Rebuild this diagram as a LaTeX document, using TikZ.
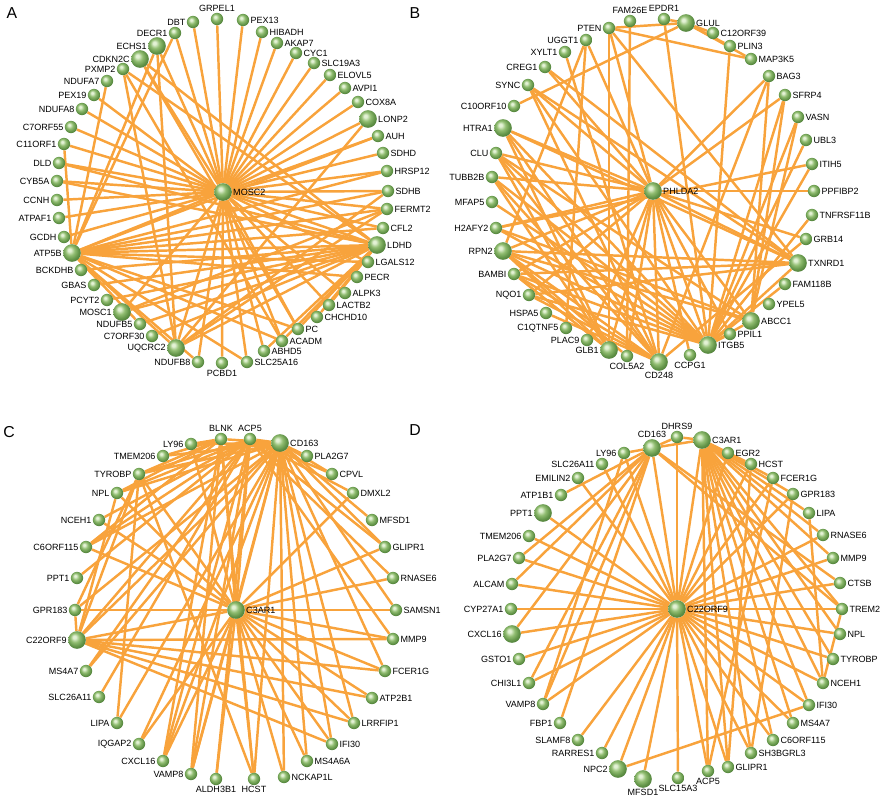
\documentclass[tikz,border=0pt]{standalone}
\usepackage{fontspec}
\setmainfont{Liberation Sans}
\usetikzlibrary{backgrounds}
\definecolor{edgeor}{RGB}{248,163,60}
\definecolor{gA}{RGB}{228,242,214}
\definecolor{gB}{RGB}{146,190,114}
\definecolor{gC}{RGB}{98,148,72}
\definecolor{gD}{RGB}{72,118,52}
\pgfdeclareradialshading{gball}{\pgfpoint{-8bp}{9bp}}{color(0bp)=(gA); color(4bp)=(gA); color(13bp)=(gB); color(23bp)=(gC); color(32bp)=(gD); color(50bp)=(gD)}
\tikzset{
 sm/.style={circle,inner sep=0pt,minimum size=0.37cm,shading=gball},
 lg/.style={circle,inner sep=0pt,minimum size=0.53cm,shading=gball},
 lbl/.style={font=\fontsize{7.7}{8}\selectfont,inner sep=0.8pt,text=black},
 lL/.style={label={[lbl]left:#1}},
 lR/.style={label={[lbl]right:#1}},
 lA/.style={label={[lbl]above:#1}},
 lB/.style={label={[lbl]below:#1}},
 lnk/.style={draw=edgeor,line width=2.1pt},
 pletter/.style={font=\fontsize{13.5}{14}\selectfont,inner sep=0pt}
}
\begin{document}
\begin{tikzpicture}[x=0.03cm,y=-0.03cm]
\useasboundingbox (0,0) rectangle (883,800);
\node[pletter] (pA) at (12,13) {A};
\node[pletter] (pB) at (415,13) {B};
\node[pletter] (pC) at (9,432) {C};
\node[pletter] (pD) at (415,430) {D};
% ---------------- Panel A
\foreach \n/\x/\y in {ECHS1/157/46,CDKN2C/140/59,ATP5B/72/253,MOSC1/122/312,UQCRC2/176/348}
  \node[lg,lL=\n] (a\n) at (\x,\y) {};
\foreach \n/\x/\y in {DBT/193/22,DECR1/175/33,PXMP2/123/69,NDUFA7/107/81,PEX19/94/95,NDUFA8/82/109,C7ORF55/71/127,C11ORF1/64/144,DLD/59/163,CYB5A/57/181,CCNH/57/200,ATPAF1/59/218,GCDH/64/237,BCKDHB/81/270,GBAS/94/285,PCYT2/107/300,NDUFB5/140/324,C7ORF30/152/336,NDUFB8/198/362}
  \node[sm,lL=\n] (a\n) at (\x,\y) {};
\node[sm,lA=GRPEL1] (aGRPEL1) at (217,19) {};
\node[sm,lB=PCBD1] (aPCBD1) at (222,363) {};
\foreach \n/\x/\y in {SLC25A16/247/362,ABHD5/264/351,ACADM/282/341,PC/298/329,CHCHD10/317/317,LACTB2/329/305,ALPK3/345/293,PECR/357/277,LGALS12/368/262,CFL2/383/228,FERMT2/387/209,SDHB/388/191,HRSP12/387/171,SDHD/383/153,AUH/378/136,COX8A/358/102,AVPI1/345/88,ELOVL5/330/75,SLC19A3/314/63,CYC1/296/53,AKAP7/277/43,HIBADH/262/32,PEX13/243/20}
  \node[sm,lR=\n] (a\n) at (\x,\y) {};
\foreach \n/\x/\y in {MOSC2/223/192,LDHD/377/245,LONP2/368/119}
  \node[lg,lR=\n] (a\n) at (\x,\y) {};
% ---------------- Panel B
\foreach \n/\x/\y in {HTRA1/503/128,RPN2/503/251,GLB1/609/350}
  \node[lg,lL=\n] (b\n) at (\x,\y) {};
\foreach \n/\x/\y in {PTEN/609/28,UGGT1/586/40,XYLT1/565/52,CREG1/545/67,SYNC/528/85,C10ORF10/514/106,CLU/496/153,TUBB2B/492/177,MFAP5/492/202,H2AFY2/496/228,BAMBI/514/274,NQO1/529/295,HSPA5/546/313,C1QTNF5/566/328,PLAC9/587/340}
  \node[sm,lL=\n] (b\n) at (\x,\y) {};
\foreach \n/\x/\y in {FAM26E/630/21,EPDR1/664/19}
  \node[sm,lA=\n] (b\n) at (\x,\y) {};
\foreach \n/\x/\y in {COL5A2/627/356,CCPG1/690/355}
  \node[sm,lB=\n] (b\n) at (\x,\y) {};
\node[lg,lB=CD248] (bCD248) at (659,362) {};
\foreach \n/\x/\y in {PHLDA2/653/191,ITGB5/708/345,ABCC1/751/321,TXNRD1/798/263,GLUL/686/23}
  \node[lg,lR=\n] (b\n) at (\x,\y) {};
\foreach \n/\x/\y in {PPIL1/730/334,YPEL5/769/304,FAM118B/785/284,GRB14/806/239,TNFRSF11B/812/215,PPFIBP2/814/191,ITIH5/812/164,UBL3/806/140,VASN/798/117,SFRP4/785/95,BAG3/769/76,MAP3K5/751/59,PLIN3/730/46,C12ORF39/713/33}
  \node[sm,lR=\n] (b\n) at (\x,\y) {};
% ---------------- Panel C
\foreach \n/\x/\y in {C3AR1/236/610,CD163/280/443}
  \node[lg,lR=\n] (c\n) at (\x,\y) {};
\foreach \n/\x/\y in {BLNK/221/439,ACP5/250/439}
  \node[sm,lA=\n] (c\n) at (\x,\y) {};
\foreach \n/\x/\y in {PLA2G7/307/456,CPVL/332/474,DMXL2/353/493,MFSD1/372/520,GLIPR1/385/547,RNASE6/393/578,SAMSN1/396/610,MMP9/393/639,FCER1G/385/671,ATP2B1/372/698,LRRFIP1/354/723,IFI30/332/744,MS4A6A/307/761,NCKAP1L/284/777}
  \node[sm,lR=\n] (c\n) at (\x,\y) {};
\foreach \n/\x/\y in {HCST/254/779,ALDH3B1/216/779}
  \node[sm,lB=\n] (c\n) at (\x,\y) {};
\foreach \n/\x/\y in {VAMP8/191/774,CXCL16/163/761,IQGAP2/139/744,LIPA/117/723,SLC26A11/99/697,MS4A7/86/671,GPR183/75/610,PPT1/77/578,C6ORF115/86/547,NCEH1/99/520,NPL/117/493,TYROBP/139/474,TMEM206/163/456,LY96/191/444}
  \node[sm,lL=\n] (c\n) at (\x,\y) {};
\node[lg,lL=C22ORF9] (cC22ORF9) at (77,640) {};
% ---------------- Panel D
\foreach \n/\x/\y in {C22ORF9/677/609,C3AR1/702/440}
  \node[lg,lR=\n] (d\n) at (\x,\y) {};
\node[sm,lA=DHRS9] (dDHRS9) at (677,437) {};
\node[lg,lA=CD163] (dCD163) at (652,448) {};
\foreach \n/\x/\y in {EGR2/728/453,HCST/751/464,FCER1G/773/478,GPR183/793/494,LIPA/809/513,RNASE6/823/535,MMP9/833/558,CTSB/840/583,TREM2/842/609,NPL/840/634,TYROBP/833/659,NCEH1/823/683,IFI30/809/705,MS4A7/793/723,C6ORF115/773/740,SH3BGRL3/751/753,GLIPR1/728/767}
  \node[sm,lR=\n] (d\n) at (\x,\y) {};
\foreach \n/\x/\y in {ACP5/708/771,SLC15A3/678/778}
  \node[sm,lB=\n] (d\n) at (\x,\y) {};
\node[lg,lB=MFSD1] (dMFSD1) at (643,779) {};
\foreach \n/\x/\y in {NPC2/618/769,CXCL16/512/634,PPT1/543/513}
  \node[lg,lL=\n] (d\n) at (\x,\y) {};
\foreach \n/\x/\y in {RARRES1/602/753,SLAMF8/578/740,FBP1/560/723,VAMP8/543/704,CHI3L1/529/683,GSTO1/519/659,CYP27A1/511/609,ALCAM/512/584,PLA2G7/519/558,TMEM206/529/536,ATP1B1/561/495,EMILIN2/578/478,SLC26A11/602/464,LY96/624/453}
  \node[sm,lL=\n] (d\n) at (\x,\y) {};
% ================= EDGES
\begin{scope}[on background layer]
% A
\foreach \t in {GRPEL1,DBT,DECR1,ECHS1,CDKN2C,PEX19,NDUFA8,C7ORF55,C11ORF1,DLD,CYB5A,CCNH,ATPAF1,GCDH,ATP5B,MOSC1,UQCRC2,NDUFB8,PCBD1,SLC25A16,ABHD5,ACADM,PC,LACTB2,ALPK3,LGALS12,LDHD,CFL2,FERMT2,SDHB,HRSP12,SDHD,AUH,LONP2,COX8A,AVPI1,ELOVL5,SLC19A3,CYC1,AKAP7,HIBADH,PEX13}
  \draw[lnk] (aMOSC2) -- (a\t);
\foreach \t in {C11ORF1,NDUFA7,DECR1,ECHS1,SDHB,FERMT2,CFL2,LDHD,LGALS12,PECR,PC,ACADM,SLC25A16,NDUFB8,UQCRC2,AUH,HRSP12,NDUFB5}
  \draw[lnk] (aATP5B) -- (a\t);
\foreach \t in {CDKN2C,PXMP2,DLD,CYB5A,BCKDHB,GBAS,PCYT2,MOSC1,NDUFB5,C7ORF30,UQCRC2,PC,ACADM,ABHD5,LACTB2,CHCHD10}
  \draw[lnk] (aLDHD) -- (a\t);
\foreach \t in {PXMP2,ECHS1,SDHB,FERMT2,LONP2}
  \draw[lnk] (aUQCRC2) -- (a\t);
\draw[lnk] (aMOSC1) -- (aFERMT2);
\draw[lnk] (aCDKN2C) -- (aPC);
\draw[lnk] (aPXMP2) -- (aACADM);
% B
\foreach \t in {SYNC,CREG1,HTRA1,CLU,TUBB2B,H2AFY2,RPN2,BAMBI,NQO1,PLAC9,GLB1,COL5A2,CD248,CCPG1,ITGB5,PPIL1,ABCC1,TXNRD1,GRB14,PPFIBP2,SFRP4,BAG3,PTEN,UGGT1}
  \draw[lnk] (bPHLDA2) -- (b\t);
\foreach \t in {SFRP4,VASN,UBL3,ITIH5,TNFRSF11B,FAM118B,TXNRD1,ABCC1,PPIL1,PLIN3,EPDR1,RPN2,TUBB2B,BAMBI,NQO1,H2AFY2,SYNC,HTRA1,CLU,MFAP5}
  \draw[lnk] (bITGB5) -- (b\t);
\foreach \t in {HTRA1,CLU,TUBB2B,RPN2,BAMBI,NQO1,HSPA5,SYNC,XYLT1,BAG3,GRB14}
  \draw[lnk] (bCD248) -- (b\t);
\foreach \t in {TUBB2B,RPN2,HTRA1,BAMBI,CLU,PTEN}
  \draw[lnk] (bGLB1) -- (b\t);
\foreach \t in {BAG3,SFRP4,VASN,RPN2,H2AFY2,CLU}
  \draw[lnk] (bABCC1) -- (b\t);
\foreach \t in {PTEN,CREG1,SYNC,HTRA1,RPN2,NQO1,BAMBI}
  \draw[lnk] (bTXNRD1) -- (b\t);
\foreach \t in {EPDR1,PTEN,C10ORF10,C12ORF39,PLIN3,MAP3K5}
  \draw[lnk] (bGLUL) -- (b\t);
\draw[lnk] (bPTEN) -- (bMAP3K5);
\draw[lnk] (bUGGT1) -- (bRPN2);
\draw[lnk] (bFAM26E) -- (bCOL5A2);
\draw[lnk] (bITIH5) -- (bH2AFY2);
\draw[lnk] (bCOL5A2) -- (bRPN2);
\draw[lnk] (bC1QTNF5) -- (bUGGT1);
% C
\foreach \t in {BLNK,ACP5,CD163,DMXL2,GLIPR1,RNASE6,SAMSN1,MMP9,FCER1G,ATP2B1,LRRFIP1,IFI30,MS4A6A,NCKAP1L,HCST,ALDH3B1,VAMP8,CXCL16,IQGAP2,GPR183,C22ORF9,C6ORF115,NPL,NCEH1,TYROBP,LY96}
  \draw[lnk] (cC3AR1) -- (c\t);
\foreach \t in {PLA2G7,CPVL,MFSD1,GLIPR1,SAMSN1,FCER1G,LRRFIP1,IFI30,MS4A6A,NCKAP1L,HCST,VAMP8,CXCL16,IQGAP2,LIPA,MS4A7,C22ORF9,GPR183,C6ORF115,NPL,TYROBP,TMEM206,LY96,ACP5,BLNK}
  \draw[lnk] (cCD163) -- (c\t);
\foreach \t in {TYROBP,NPL,NCEH1,C6ORF115,PPT1,C22ORF9,MS4A7,SLC26A11,CXCL16,VAMP8,ALDH3B1,CPVL,DMXL2,GLIPR1,RNASE6,MMP9}
  \draw[lnk] (cACP5) -- (c\t);
\foreach \t in {LY96,TMEM206,TYROBP,NPL,C6ORF115,CXCL16,VAMP8,HCST}
  \draw[lnk] (cBLNK) -- (c\t);
\foreach \t in {GPR183,NPL,TYROBP,MMP9,FCER1G,ATP2B1,LRRFIP1,IFI30}
  \draw[lnk] (cC22ORF9) -- (c\t);
\draw[lnk] (cGPR183) -- (cTYROBP);
\draw[lnk] (cTYROBP) -- (cLIPA);
\draw[lnk] (cHCST) -- (cTYROBP);
% D
\foreach \t in {CD163,DHRS9,C3AR1,EGR2,HCST,FCER1G,GPR183,RNASE6,MMP9,CTSB,TREM2,NPL,TYROBP,NCEH1,IFI30,MS4A7,C6ORF115,SH3BGRL3,GLIPR1,ACP5,SLC15A3,MFSD1,NPC2,RARRES1,SLAMF8,VAMP8,CHI3L1,GSTO1,CXCL16,CYP27A1,ALCAM,PLA2G7,TMEM206,PPT1,EMILIN2,SLC26A11,LY96}
  \draw[lnk] (dC22ORF9) -- (d\t);
\foreach \t in {EGR2,HCST,FCER1G,GPR183,LIPA,RNASE6,MMP9,TREM2,NPL,TYROBP,NCEH1,IFI30,MS4A7,C6ORF115,SH3BGRL3,GLIPR1,ACP5,DHRS9,CD163}
  \draw[lnk] (dC3AR1) -- (d\t);
\foreach \t in {LY96,ATP1B1,PLA2G7,ALCAM,CXCL16,CHI3L1,VAMP8,FBP1,DHRS9,CTSB,TREM2}
  \draw[lnk] (dCD163) -- (d\t);
\draw[lnk] (dLIPA) -- (dNCEH1);
\draw[lnk] (dTREM2) -- (dNCEH1);
\draw[lnk] (dNPC2) -- (dIFI30);
\draw[lnk] (dLY96) -- (dVAMP8);
\draw[lnk] (dHCST) -- (dGLIPR1);
\draw[lnk] (dGPR183) -- (dSH3BGRL3);
\draw[lnk] (dFCER1G) -- (dACP5);
\end{scope}
\end{tikzpicture}
\end{document}
